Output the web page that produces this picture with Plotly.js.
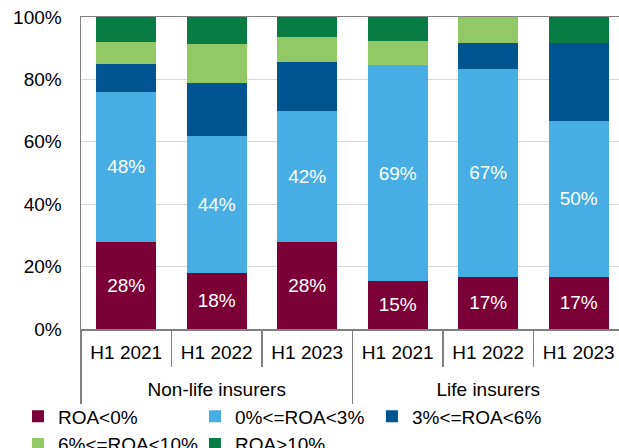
<!DOCTYPE html>
<html>
<head>
<meta charset="utf-8">
<script src="https://cdn.plot.ly/plotly-3.0.1.min.js"></script>
<style>html,body{margin:0;padding:0;background:#fff;}#chart{width:619px;height:448px;}</style>
</head>
<body>
<div id="chart"></div>
<script>
// Data
const groups = ["Non-life insurers", "Non-life insurers", "Non-life insurers", "Life insurers", "Life insurers", "Life insurers"];
const periods = ["H1 2021", "H1 2022", "H1 2023", "H1 2021", "H1 2022", "H1 2023"];
const seriesNames = ["ROA<0%", "0%<=ROA<3%", "3%<=ROA<6%", "6%<=ROA<10%", "ROA>10%"];
const roaNeg = [28, 18, 28, 15.4, 16.7, 16.7];
const roa0to3 = [48, 44, 42, 69.2, 66.7, 50];
const roa3to6 = [8.8, 17, 15.6, 0, 8.3, 25];
const roa6to10 = [7.2, 12.4, 8, 7.7, 8.3, 0];
const roaOver10 = [8, 8.6, 6.4, 7.7, 0, 8.3];
const yTickVals = [0, 20, 40, 60, 80, 100];
const yTickText = ["0%", "20%", "40%", "60%", "80%", "100%"];

const colors = ["#7b0035", "#47aee4", "#00548f", "#92c866", "#077d45"];
const values = [roaNeg, roa0to3, roa3to6, roa6to10, roaOver10];
const FONT = "Liberation Sans, Arial, sans-serif";

// positions derived from the category arrays
const xIdx = periods.map((_, i) => i);
const innerBounds = periods.map((_, i) => i - 0.5);
const groupNames = [];
const groupCenters = [];
const groupBounds = [];
groups.forEach((g, i) => {
  if (i === 0 || groups[i - 1] !== g) { groupNames.push(g); groupBounds.push(i - 0.5); }
});
groupNames.forEach(g => {
  const idx = groups.map((v, i) => v === g ? i : null).filter(v => v !== null);
  groupCenters.push((idx[0] + idx[idx.length - 1]) / 2);
});
groupBounds.push(groups.length - 0.5);

const traces = values.map((v, i) => ({
  type: "bar",
  name: seriesNames[i],
  x: xIdx,
  y: v,
  xaxis: "x",
  marker: {color: colors[i], line: {width: 0}},
  texttemplate: i < 2 ? "%{y:.0f}%" : "",
  textposition: i < 2 ? "inside" : "none",
  insidetextanchor: "middle",
  textangle: 0,
  textfont: {color: "#ffffff", size: 19, family: FONT},
  hoverinfo: "none"
}));
// invisible helper trace so the group axis is registered
traces.push({type: "scatter", x: groupCenters, y: [0, 0], xaxis: "x2", mode: "none", showlegend: false, hoverinfo: "none"});

const xRange = [-0.5, 5.445];
const AX = "#808080";

const layout = {
  width: 619, height: 448,
  margin: {l: 81, r: 0, t: 17, b: 119},
  barmode: "stack",
  bargap: 0.335,
  paper_bgcolor: "#ffffff",
  plot_bgcolor: "#ffffff",
  font: {family: FONT, size: 19, color: "#000000"},
  showlegend: true,
  legend: {
    orientation: "h",
    xref: "container", yref: "container",
    x: 0.029, xanchor: "left",
    y: 0.113, yanchor: "top",
    bgcolor: "rgba(0,0,0,0)",
    entrywidth: 132, entrywidthmode: "pixels",
    font: {family: FONT, size: 19, color: "#000000"},
    traceorder: "normal"
  },
  xaxis: {
    range: xRange,
    automargin: false,
    tickmode: "array", tickvals: xIdx, ticktext: periods,
    ticks: "", ticklabelstandoff: 6,
    minor: {tickmode: "array", tickvals: innerBounds, ticks: "outside", ticklen: 36, tickwidth: 1.5, tickcolor: AX, showgrid: false},
    showline: true, linecolor: AX, linewidth: 1.5,
    mirror: true,
    tickfont: {family: FONT, size: 19, color: "#000000"},
    showgrid: false, zeroline: false
  },
  xaxis2: {
    overlaying: "x", anchor: "y", side: "bottom",
    range: xRange,
    automargin: false,
    tickmode: "array", tickvals: groupCenters, ticktext: groupNames,
    ticks: "", ticklabelstandoff: 47,
    minor: {tickmode: "array", tickvals: groupBounds, ticks: "outside", ticklen: 74, tickwidth: 1.5, tickcolor: AX, showgrid: false},
    showline: false,
    tickfont: {family: FONT, size: 19, color: "#000000"},
    showgrid: false, zeroline: false
  },
  yaxis: {
    range: [0, 100],
    automargin: false,
    tickvals: yTickVals, ticktext: yTickText,
    showgrid: true, gridcolor: "#d9d9d9", gridwidth: 1,
    showline: true, linecolor: AX, linewidth: 1.5,
    zeroline: false,
    ticks: "", ticklabelstandoff: 14,
    tickfont: {family: FONT, size: 19, color: "#000000"}
  }
};

Plotly.newPlot("chart", traces, layout, {displayModeBar: false, staticPlot: true});
</script>
</body>
</html>
